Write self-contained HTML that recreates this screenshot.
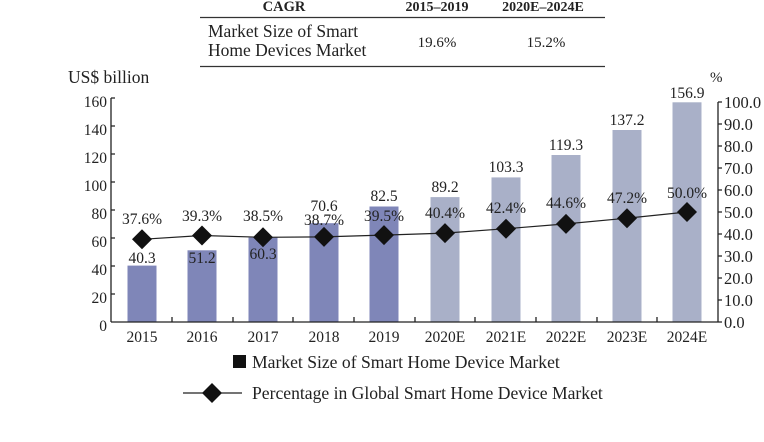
<!DOCTYPE html>
<html><head><meta charset="utf-8"><style>
body{margin:0;background:#fff;}
svg{display:block;font-family:"Liberation Serif",serif;}
</style></head><body>
<svg width="764" height="442" viewBox="0 0 764 442">
<g fill="#222">
<text x="284" y="11" text-anchor="middle" font-weight="bold" font-size="14.5">CAGR</text>
<text x="437" y="11" text-anchor="middle" font-weight="bold" font-size="14">2015–2019</text>
<text x="543" y="11" text-anchor="middle" font-weight="bold" font-size="14">2020E–2024E</text>
<line x1="200" y1="17.5" x2="605" y2="17.5" stroke="#333" stroke-width="1.3"/>
<text x="208" y="37" font-size="17.5">Market Size of Smart</text>
<text x="208" y="56" font-size="17.5">Home Devices Market</text>
<text x="437" y="47" text-anchor="middle" font-size="15">19.6%</text>
<text x="546" y="47" text-anchor="middle" font-size="15">15.2%</text>
<line x1="200" y1="66.5" x2="605" y2="66.5" stroke="#333" stroke-width="1.3"/>
</g>
<text x="68" y="83" font-size="17.5" fill="#222">US$ billion</text>
<text x="710" y="82" font-size="15" fill="#222">%</text>
<g fill="#7f86b8">
<rect x="127.5" y="265.6" width="29" height="56.4"/>
<rect x="187.5" y="250.3" width="29" height="71.7"/>
<rect x="248.5" y="237.6" width="29" height="84.4"/>
<rect x="309.5" y="223.2" width="29" height="98.8"/>
<rect x="369.5" y="206.5" width="29" height="115.5"/>
</g>
<g fill="#a9b0c8">
<rect x="430.5" y="197.1" width="29" height="124.9"/>
<rect x="491.5" y="177.4" width="29" height="144.6"/>
<rect x="551.5" y="155" width="29" height="167"/>
<rect x="612.5" y="130" width="29" height="192"/>
<rect x="672.5" y="102.3" width="29" height="219.7"/>
</g>
<g stroke="#222" stroke-width="1.3" fill="none">
<line x1="111" y1="98" x2="111" y2="322"/>
<line x1="111" y1="322" x2="718" y2="322"/>
<line x1="718" y1="102" x2="718" y2="322"/>
<path d="M111 98h4M111 126h4M111 154h4M111 182h4M111 210h4M111 238h4M111 266h4M111 294h4"/>
<path d="M718 102h4M718 124h4M718 146h4M718 168h4M718 190h4M718 212h4M718 234h4M718 256h4M718 278h4M718 300h4M718 322h4"/>
<path d="M172 322v-5M233 322v-5M293 322v-5M354 322v-5M415 322v-5M475 322v-5M536 322v-5M597 322v-5M657 322v-5"/>
</g>
<g font-size="15.5" fill="#222" text-anchor="end">
<text x="107" y="107">160</text><text x="107" y="135">140</text><text x="107" y="163">120</text>
<text x="107" y="191">100</text><text x="107" y="219">80</text><text x="107" y="247">60</text>
<text x="107" y="275">40</text><text x="107" y="303">20</text><text x="107" y="331">0</text>
</g>
<g font-size="16.5" fill="#222">
<text x="724" y="108">100.0</text><text x="724" y="130">90.0</text><text x="724" y="152">80.0</text>
<text x="724" y="174">70.0</text><text x="724" y="196">60.0</text><text x="724" y="218">50.0</text>
<text x="724" y="240">40.0</text><text x="724" y="262">30.0</text><text x="724" y="284">20.0</text>
<text x="724" y="306">10.0</text><text x="724" y="328">0.0</text>
</g>
<g font-size="15.5" fill="#222" text-anchor="middle">
<text x="142" y="342">2015</text><text x="202" y="342">2016</text><text x="263" y="342">2017</text>
<text x="324" y="342">2018</text><text x="384" y="342">2019</text><text x="445" y="342">2020E</text>
<text x="506" y="342">2021E</text><text x="566" y="342">2022E</text><text x="627" y="342">2023E</text>
<text x="687" y="342">2024E</text>
</g>
<g font-size="15.5" fill="#222" text-anchor="middle">
<text x="142" y="263">40.3</text><text x="202" y="263">51.2</text><text x="263" y="259">60.3</text>
<text x="324" y="211">70.6</text><text x="384" y="201">82.5</text><text x="445" y="192">89.2</text>
<text x="506" y="172">103.3</text><text x="566" y="150">119.3</text><text x="627" y="125">137.2</text>
<text x="687" y="98">156.9</text>
<text x="142" y="224">37.6%</text><text x="202" y="221">39.3%</text><text x="263" y="221">38.5%</text>
<text x="324" y="225">38.7%</text><text x="384" y="221">39.5%</text><text x="445" y="218">40.4%</text>
<text x="506" y="213">42.4%</text><text x="566" y="208">44.6%</text><text x="627" y="203">47.2%</text>
<text x="687" y="198">50.0%</text>
</g>
<polyline fill="none" stroke="#222" stroke-width="1.2" points="142,239.3 202,235.5 263,237.3 324,236.9 384,235.1 445,233.1 506,228.7 566,223.9 627,218.2 687,212"/>
<g fill="#111">
<path d="M142 229.3l10 10-10 10-10-10z"/><path d="M202 225.5l10 10-10 10-10-10z"/>
<path d="M263 227.3l10 10-10 10-10-10z"/><path d="M324 226.9l10 10-10 10-10-10z"/>
<path d="M384 225.1l10 10-10 10-10-10z"/><path d="M445 223.1l10 10-10 10-10-10z"/>
<path d="M506 218.7l10 10-10 10-10-10z"/><path d="M566 213.9l10 10-10 10-10-10z"/>
<path d="M627 208.2l10 10-10 10-10-10z"/><path d="M687 202l10 10-10 10-10-10z"/>
</g>
<rect x="233" y="355" width="13" height="13" fill="#111"/>
<text x="252" y="368" font-size="17.6" fill="#222">Market Size of Smart Home Device Market</text>
<line x1="183" y1="393" x2="242" y2="393" stroke="#222" stroke-width="1.2"/>
<path d="M212 383l10 10-10 10-10-10z" fill="#111"/>
<text x="252" y="399" font-size="17.6" fill="#222">Percentage in Global Smart Home Device Market</text>
</svg>
</body></html>
